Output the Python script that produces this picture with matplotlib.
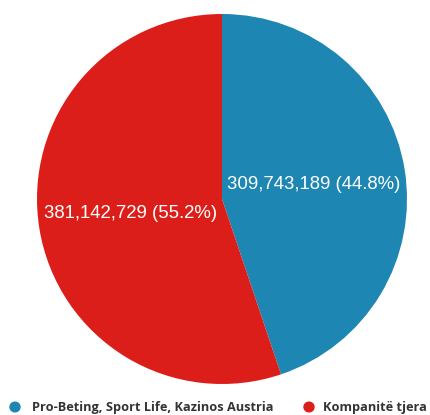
import numpy as np
import matplotlib.pyplot as plt

labels = ["Pro-Beting, Sport Life, Kazinos Austria", "Kompanitë tjera"]
values = [309743189, 381142729]
colors = ["#1d86b2", "#dc1e1b"]

W, H = 430, 415
fig = plt.figure(figsize=(W / 100, H / 100), dpi=100)

cx, cy, r = 222, 199, 185
ax = fig.add_axes([(cx - r) / W, (H - cy - r) / H, 2 * r / W, 2 * r / H])
wedges, _ = ax.pie(values, colors=colors, startangle=90, counterclock=False,
                   radius=1, wedgeprops=dict(linewidth=0))
ax.set_xlim(-1, 1)
ax.set_ylim(-1, 1)
ax.set_aspect("equal")
ax.axis("off")

total = sum(values)
for w, v in zip(wedges, values):
    mid = np.deg2rad((w.theta1 + w.theta2) / 2)
    ax.text(0.5 * np.cos(mid), 0.5 * np.sin(mid), f"{v:,} ({v / total * 100:.1f}%)",
            ha="center", va="center", color="white", fontsize=13.4,
            family="Liberation Sans")

# legend
ly = 1 - 407 / H
xs = [15, 309]
offs = [17, 14]
for x, o, lab, c in zip(xs, offs, labels, colors):
    fig.patches.append(plt.Circle((x / W, ly), 5 / W, transform=fig.transFigure,
                                  color=c, figure=fig))
    fig.text((x + o) / W, ly, lab, ha="left", va="center", fontsize=9.2,
             color="#333333", weight="bold", family="Open Sans")

fig.savefig("out.png", dpi=100)
